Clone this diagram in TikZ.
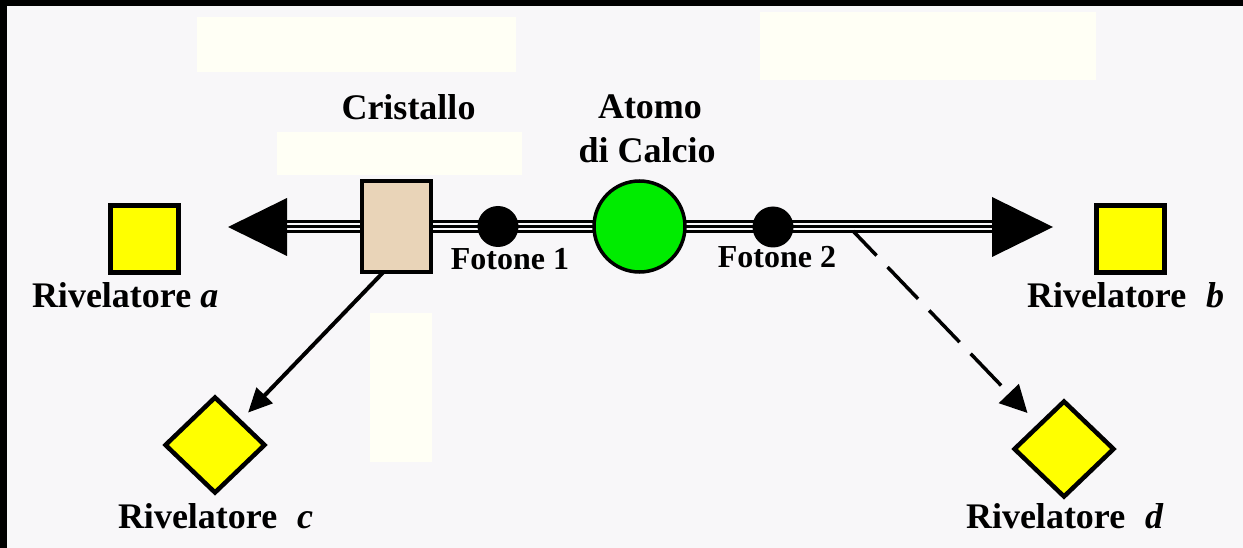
\documentclass[tikz,border=0pt]{standalone}
\usepackage{fontspec}
\setmainfont{Liberation Serif}
\usetikzlibrary{arrows.meta,shapes.geometric,calc}
\definecolor{panel}{RGB}{248,247,249}
\definecolor{ivory}{RGB}{255,255,245}
\definecolor{detyellow}{RGB}{255,255,0}
\definecolor{atomgreen}{RGB}{0,236,0}
\definecolor{crystaltan}{RGB}{233,212,184}
\pgfdeclarelayer{bg}
\pgfsetlayers{bg,main}
\begin{document}
\begin{tikzpicture}[x=1pt,y=-1pt,
  lab/.style={font=\fontsize{36}{40}\selectfont\bfseries, inner sep=0pt, outer sep=0pt},
  smalllab/.style={font=\fontsize{32}{36}\selectfont\bfseries, inner sep=0pt, outer sep=0pt},
  detsq/.style={draw=black, line width=5pt, fill=detyellow, minimum width=68pt, minimum height=67pt, inner sep=0pt, outer sep=0pt},
  detdia/.style={diamond, draw=black, line width=4.5pt, fill=detyellow, minimum width=99pt, minimum height=95pt, inner sep=0pt, outer sep=0pt},
  crystalbox/.style={draw=black, line width=4.5pt, fill=crystaltan, minimum width=69pt, minimum height=91pt, inner sep=0pt, outer sep=0pt},
  photon/.style={circle, fill=black, minimum size=41pt, inner sep=0pt, outer sep=0pt},
  atomball/.style={circle, draw=black, line width=3.5pt, fill=atomgreen, minimum size=91pt, inner sep=0pt, outer sep=0pt},
  beamline/.style={line width=3pt, black},
  conn/.style={line width=4pt, black, -{Triangle[length=24pt,width=22pt]}},
  dconn/.style={line width=3.5pt, black, dash pattern=on 44pt off 16pt, dash phase=10pt, -{Triangle[length=27pt,width=27pt]}},
  mask/.style={fill=ivory}
]
\useasboundingbox (0,0) rectangle (1243,548);

% nodes
\node[detsq] (deta) at (144,239) {};
\node[detsq] (detb) at (1130.5,239) {};
\node[detdia] (detc) at (215,445) {};
\node[detdia] (detd) at (1064,449) {};
\node[crystalbox] (crys) at (396.5,226.5) {};
\node[photon] (ph1) at (498,226.5) {};
\node[atomball] (atom) at (639.5,226.5) {};
\node[photon] (ph2) at (773,227) {};

\coordinate (tipL) at (228,227);
\coordinate (tipR) at (1053,227);
\coordinate (baseL) at (287,227);
\coordinate (baseR) at (992,227);
\coordinate (split) at (853,231);

% arrowheads of the beam
\fill[black] (tipL) -- ++(59,-29) -- ++(0,58) -- cycle;
\fill[black] (tipR) -- ++(-61,-30) -- ++(0,60) -- cycle;

\begin{pgfonlayer}{bg}
  \fill[black] (0,0) rectangle (1243,548);
  \fill[panel] (7,6) rectangle (1243,548);
  \fill[mask] (197,17) rectangle (516,72);
  \fill[mask] (277,132) rectangle (522,175);
  \fill[mask] (760,12) rectangle (1096,80);
  \fill[mask] (370,313) rectangle (432,462);
  \foreach \dy in {-5,0,5}
    \draw[beamline] ([yshift=\dy pt]baseL) -- ([yshift=\dy pt]baseR);
\end{pgfonlayer}

% connectors to c and d
\draw[conn, shorten >=12pt] ([xshift=-13pt]crys.south) -- (detc.north east);
\draw[dconn, shorten >=17pt] (split) -- (detd.north west);

% labels
\node[lab, anchor=base] (lcrys) at (408.5,120) {Cristallo};
\node[lab, anchor=base] (latom1) at (650,119) {Atomo};
\node[lab, anchor=base] (latom2) at (647,163) {di Calcio};
\node[smalllab, anchor=base] (lph1) at (510,270) {Fotone 1};
\node[smalllab, anchor=base] (lph2) at (777,268) {Fotone 2};
\node[lab, anchor=base west] (la) at (32,308) {Rivelatore \textit{a}};
\node[lab, anchor=base west] (lb) at (1027,308) {Rivelatore\hspace{0.55em}\textit{b}};
\node[lab, anchor=base west] (lc) at (118,528) {Rivelatore\hspace{0.55em}\textit{c}};
\node[lab, anchor=base west] (ld) at (966,528) {Rivelatore\hspace{0.55em}\textit{d}};
\end{tikzpicture}
\end{document}
